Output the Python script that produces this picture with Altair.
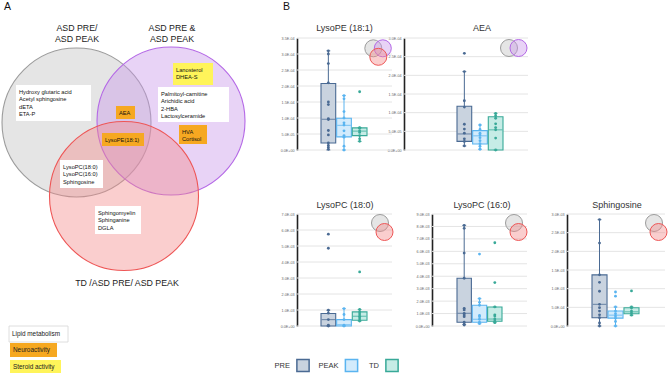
import math
import altair as alt
import pandas as pd

FONT = "Liberation Sans"
W, H = 669, 375

# ---------------- Panel A : Venn diagram ----------------
SET_NAMES = ["ASD PRE/ASD PEAK", "ASD PRE & ASD PEAK", "TD/ASD PRE/ASD PEAK"]
SET_CX = [76.5, 171, 124]
SET_CY = [122.5, 121, 196]
SET_R = [74.5, 74, 74.5]
CIRCLE_FILL = ["#c2c2c2", "#c795ea", "#f48a8a"]
CIRCLE_STROKE = ["#9c9c9c", "#b468e6", "#ee5656"]

SET_TITLES = ["ASD PRE/", "ASD PEAK", "ASD PRE &", "ASD PEAK", "TD /ASD PRE/ ASD PEAK"]
SET_TITLE_X = [77, 77, 172, 172, 127]
SET_TITLE_Y = [28, 39, 28, 39, 283]

KINDS = ["Lipid metabolism", "Neuroactivity", "Steroid activity"]
KIND_COLORS = ["#ffffff", "#f6a821", "#fff45a"]

BOX_KIND = ["Lipid metabolism", "Steroid activity", "Lipid metabolism", "Neuroactivity",
            "Neuroactivity", "Neuroactivity", "Lipid metabolism", "Lipid metabolism"]
BOX_LINES = [
    ["Hydroxy glutaric acid", "Acetyl sphingosine", "dETA", "ETA-P"],
    ["Lanosterol", "DHEA-S"],
    ["Palmitoyl-carnitine", "Arichidic acid", "2-HBA", "Lactosylceramide"],
    ["AEA"],
    ["HVA", "Cortisol"],
    ["LysoPE(18:1)"],
    ["LysoPC(18:0)", "LysoPC(16:0)", "Sphingosine"],
    ["Sphingomyelin", "Sphinganine", "DGLA"],
]
# layout of annotation boxes (pixels)
BOX_X1 = [16, 173, 158, 116, 179, 102, 60, 95]
BOX_X2 = [91, 213, 229, 135, 207, 144, 103, 141]
BOX_Y1 = [85, 63, 87, 106, 125, 133, 160, 206]
BOX_Y2 = [121, 85, 122, 119, 144, 146, 188, 234]

LEG_X1 = [9, 10, 10]
LEG_X2 = [68, 57, 61]
LEG_Y1 = [326, 343, 360]
LEG_Y2 = [342, 357, 373]

# ---------------- Panel B : box plots ----------------
GROUPS = ["PRE", "PEAK", "TD"]
BOX_FILL = ["#c9d3df", "#d3ebfc", "#c6ece6"]
BOX_STROKE = ["#4a6a93", "#5ab4f0", "#38a998"]

PANEL_TITLES = ["LysoPE (18:1)", "AEA", "LysoPC (18:0)", "LysoPC (16:0)", "Sphingosine"]
UNITS = [1e-4, 1e-4, 1e-3, 1e-3, 1e-3]
Y_TICKS = [
    [0, 0.5, 1.0, 1.5, 2.0, 2.5, 3.0, 3.5],
    [0, 0.5, 1.0, 1.5, 2.0, 2.5, 3.0],
    [0, 1, 2, 3, 4, 5, 6, 7],
    [0, 1, 2, 3, 4, 5, 6, 7, 8, 9],
    [0, 0.5, 1.0, 1.5, 2.0, 2.5, 3.0],
]
# [whisker low, Q1, median, Q3, whisker high] per group, in panel units
STATS = [
    [[0.00, 0.22, 0.96, 2.08, 3.10], [0.00, 0.41, 0.77, 0.99, 1.70], [0.27, 0.45, 0.59, 0.69, 0.70]],
    [[0.11, 0.23, 0.43, 1.17, 2.10], [0.02, 0.16, 0.38, 0.52, 0.67], [0.00, 0.00, 0.54, 0.89, 0.98]],
    [[0.00, 0.00, 0.40, 0.78, 0.99], [0.00, 0.00, 0.08, 0.40, 1.09], [0.31, 0.36, 0.61, 0.88, 1.03]],
    [[0.13, 0.30, 1.02, 3.84, 8.09], [0.19, 0.30, 0.54, 1.67, 2.20], [0.27, 0.38, 0.56, 1.53, 1.53]],
    [[0.00, 0.22, 0.58, 1.37, 2.85], [0.00, 0.21, 0.29, 0.40, 0.51], [0.29, 0.33, 0.38, 0.49, 0.51]],
]
POINTS = [
    [[3.10, 3.00, 2.70, 2.10, 1.50, 1.42, 0.98, 0.95, 0.61, 0.47, 0.22, 0.14, 0.08, 0.02],
     [1.70, 1.60, 1.20, 1.00, 0.85, 0.78, 0.60, 0.45, 0.40, 0.12, 0.00],
     [1.82, 0.70, 0.68, 0.60, 0.55, 0.45, 0.35, 0.27]],
    [[2.59, 2.10, 1.32, 1.15, 0.69, 0.56, 0.45, 0.30, 0.23, 0.11],
     [0.67, 0.55, 0.45, 0.40, 0.33, 0.25, 0.17, 0.10, 0.02],
     [0.98, 0.92, 0.85, 0.70, 0.60, 0.54, 0.32, 0.00]],
    [[5.74, 4.86, 0.99, 0.80, 0.40, 0.05, 0.00],
     [1.09, 0.72, 0.40, 0.05, 0.00],
     [3.38, 1.03, 0.88, 0.75, 0.61, 0.50, 0.36, 0.31]],
    [[8.09, 7.85, 5.86, 3.84, 1.42, 1.29, 1.02, 0.89, 0.75, 0.30, 0.13, 0.08],
     [5.78, 2.20, 1.90, 1.67, 0.85, 0.75, 0.54, 0.30, 0.19],
     [6.69, 3.49, 1.53, 0.90, 0.80, 0.56, 0.38, 0.27]],
    [[2.85, 2.22, 1.37, 1.17, 0.93, 0.58, 0.49, 0.40, 0.30, 0.22, 0.08, 0.00],
     [0.91, 0.80, 0.51, 0.40, 0.33, 0.27, 0.21, 0.12, 0.00],
     [0.94, 0.51, 0.48, 0.40, 0.35, 0.29]],
]
# which sets each metabolite belongs to (mini Venn icons)
ICON_SETS = [[0, 1, 2], [0, 1], [0, 2], [0, 2], [0, 2]]

# layout of the box-plot panels (pixels)
PLOT_X = [(297, 392), (404, 528), (297, 392), (432, 527), (567, 665)]
PLOT_Y = [(38, 150), (38, 150), (214, 326), (214, 326), (214, 326)]
BOX_SPAN = [(321, 367), (457, 503), (321, 367), (457, 502), (592, 639)]
TITLE_POS = [(344.5, 28), (482, 28), (345, 205), (482, 205), (617, 205)]
ICON_ANCHOR = [(373.3, 48.3), (509, 48), (380, 223), (514, 223), (654, 223)]
ICON_R = 8.5
LEGEND_BOX_X = [303, 351.5, 392]
LEGEND_Y = 365.5

LABEL_EXPR = ("replace(slice(format(datum.value, '.1e'), 0, -1), 'e', 'E') + '0' + "
              "slice(format(datum.value, '.1e'), -1)")


def venn_layer():
    xs = alt.Scale(domain=[0, W], range=[0, W], nice=False, zero=False)
    ys = alt.Scale(domain=[0, H], range=[0, H], nice=False, zero=False)

    def X(f):
        return alt.X(f, scale=xs, axis=None)

    def Y(f):
        return alt.Y(f, scale=ys, axis=None)

    # Vega symbol size is the area of the bounding square: (2r)^2
    circ = pd.DataFrame({"set": SET_NAMES, "cx": SET_CX, "cy": SET_CY,
                         "area": [(2 * r) ** 2 for r in SET_R], "idx": [0, 1, 2]})
    circles = alt.Chart(circ).mark_circle(opacity=1, fillOpacity=0.42, strokeWidth=1.1).encode(
        x=X("cx:Q"), y=Y("cy:Q"),
        size=alt.Size("area:Q", scale=None),
        color=alt.Color("set:N", scale=alt.Scale(domain=SET_NAMES, range=CIRCLE_FILL), legend=None),
        stroke=alt.Stroke("set:N", scale=alt.Scale(domain=SET_NAMES, range=CIRCLE_STROKE), legend=None),
        order=alt.Order("idx:Q"),
    )

    boxes = pd.DataFrame({"kind": BOX_KIND + KINDS,
                          "x1": BOX_X1 + LEG_X1, "x2": BOX_X2 + LEG_X2,
                          "y1": BOX_Y1 + LEG_Y1, "y2": BOX_Y2 + LEG_Y2})
    rects = alt.Chart(boxes).mark_rect().encode(
        x=X("x1:Q"), x2="x2:Q", y=Y("y1:Q"), y2="y2:Q",
        fill=alt.Fill("kind:N", scale=alt.Scale(domain=KINDS, range=KIND_COLORS), legend=None),
    )
    lipid_border = alt.Chart(pd.DataFrame({"x1": [LEG_X1[0]], "x2": [LEG_X2[0]],
                                           "y1": [LEG_Y1[0]], "y2": [LEG_Y2[0]]})).mark_rect(
        fill="#ffffff", stroke="#d6d6d6", strokeWidth=0.8).encode(
        x=X("x1:Q"), x2="x2:Q", y=Y("y1:Q"), y2="y2:Q")

    rows = []
    for k, lines in enumerate(BOX_LINES):
        for j, t in enumerate(lines):
            rows.append({"t": t, "x": BOX_X1[k] + 3, "y": BOX_Y1[k] + 7 + 7.3 * j})
    txt = alt.Chart(pd.DataFrame(rows)).mark_text(
        align="left", baseline="middle", fontSize=5.7, font=FONT, color="#111111").encode(
        x=X("x:Q"), y=Y("y:Q"), text="t:N")

    leg_rows = [{"t": KINDS[k], "x": LEG_X1[k] + 3, "y": (LEG_Y1[k] + LEG_Y2[k]) / 2} for k in range(3)]
    leg_txt = alt.Chart(pd.DataFrame(leg_rows)).mark_text(
        align="left", baseline="middle", fontSize=6.4, font=FONT, color="#222222").encode(
        x=X("x:Q"), y=Y("y:Q"), text="t:N")

    ttl = alt.Chart(pd.DataFrame({"t": SET_TITLES, "x": SET_TITLE_X, "y": SET_TITLE_Y})).mark_text(
        align="center", baseline="middle", fontSize=8.8, font=FONT, color="#222222").encode(
        x=X("x:Q"), y=Y("y:Q"), text="t:N")

    letters = alt.Chart(pd.DataFrame({"t": ["A", "B"], "x": [4, 283], "y": [7, 7]})).mark_text(
        align="left", baseline="middle", fontSize=10.5, font=FONT, color="#111111").encode(
        x=X("x:Q"), y=Y("y:Q"), text="t:N")

    return alt.layer(circles, rects, lipid_border, txt, leg_txt, ttl, letters)


def box_panel(i):
    unit = UNITS[i]
    st = STATS[i]
    box_df = pd.DataFrame({
        "group": GROUPS,
        "lo": [s[0] * unit for s in st], "q1": [s[1] * unit for s in st],
        "med": [s[2] * unit for s in st], "q3": [s[3] * unit for s in st],
        "hi": [s[4] * unit for s in st],
    })
    pts_df = pd.DataFrame({
        "group": [g for g, vals in zip(GROUPS, POINTS[i]) for _ in vals],
        "v": [v * unit for vals in POINTS[i] for v in vals],
    })
    ticks = [t * unit for t in Y_TICKS[i]]
    x0, x1 = PLOT_X[i]
    y0, y1 = PLOT_Y[i]
    xs = alt.Scale(domain=GROUPS, paddingInner=0.06, paddingOuter=0, range=list(BOX_SPAN[i]))
    X = alt.X("group:N", scale=xs, axis=None)
    ys = alt.Scale(domain=[0, ticks[-1]], nice=False, zero=True, range=[y1, y0])
    ax = alt.Axis(values=ticks, labelExpr=LABEL_EXPR, title=None, grid=False, orient="left",
                  offset=-x0, domain=True, domainColor="#222222", domainWidth=1.6, ticks=False,
                  labelFontSize=3.7, labelColor="#666666", labelPadding=3, labelFont=FONT)

    def Y(f):
        return alt.Y(f, scale=ys, axis=ax)

    col = alt.Color("group:N", scale=alt.Scale(domain=GROUPS, range=BOX_STROKE), legend=None)
    strk = alt.Stroke("group:N", scale=alt.Scale(domain=GROUPS, range=BOX_STROKE), legend=None)
    fil = alt.Fill("group:N", scale=alt.Scale(domain=GROUPS, range=BOX_FILL), legend=None)

    grid = alt.Chart(pd.DataFrame({"t": ticks})).mark_rule(color="#e4e4e4", strokeWidth=1).encode(
        y=Y("t:Q"), x=alt.value(x0), x2=alt.value(x1))
    base = alt.Chart(box_df)
    whisk = base.mark_rule(strokeWidth=1).encode(x=X, y=Y("lo:Q"), y2="hi:Q", color=col)
    box = base.mark_bar(strokeWidth=1.1).encode(x=X, y=Y("q1:Q"), y2="q3:Q", fill=fil, stroke=strk)
    med = base.mark_tick(size=13.5, thickness=1.1).encode(x=X, y=Y("med:Q"), color=col)
    cap_lo = base.mark_tick(size=4, thickness=1).encode(x=X, y=Y("lo:Q"), color=col)
    cap_hi = base.mark_tick(size=4, thickness=1).encode(x=X, y=Y("hi:Q"), color=col)
    pts = alt.Chart(pts_df).mark_circle(size=8, opacity=1).encode(x=X, y=Y("v:Q"), color=col)
    return alt.layer(grid, whisk, box, med, cap_lo, cap_hi, pts)


def decorations():
    layers = []
    # panel titles
    for i, t in enumerate(PANEL_TITLES):
        tx, ty = TITLE_POS[i]
        layers.append(alt.Chart(pd.DataFrame({"t": [t]})).mark_text(
            align="center", baseline="middle", fontSize=9, font=FONT, color="#333333").encode(
            text="t:N", x=alt.value(tx), y=alt.value(ty)))
    # mini venn icons
    for i, sets in enumerate(ICON_SETS):
        ax0, ay0 = ICON_ANCHOR[i]
        offsets = {0: (0, 0), 1: (9.5, 0), 2: (5, 8.5) if 1 in sets else (4.5, 9)}
        for s in sets:
            dx, dy = offsets[s]
            layers.append(alt.Chart(pd.DataFrame({"s": [SET_NAMES[s]]})).mark_circle(
                opacity=1, fillOpacity=0.42, fill=CIRCLE_FILL[s], stroke=CIRCLE_STROKE[s],
                strokeWidth=1, size=(2 * ICON_R) ** 2).encode(
                x=alt.value(ax0 + dx), y=alt.value(ay0 + dy)))
    # group legend
    for k, g in enumerate(GROUPS):
        bx = LEGEND_BOX_X[k]
        layers.append(alt.Chart(pd.DataFrame({"g": [g]})).mark_square(
            size=150, opacity=1, fill=BOX_FILL[k], stroke=BOX_STROKE[k], strokeWidth=1.5).encode(
            x=alt.value(bx), y=alt.value(LEGEND_Y)))
        layers.append(alt.Chart(pd.DataFrame({"g": [g]})).mark_text(
            align="right", baseline="middle", fontSize=7.5, font=FONT, color="#333333").encode(
            text="g:N", x=alt.value(bx - 13), y=alt.value(LEGEND_Y)))
    return layers


chart = alt.layer(venn_layer(), *[box_panel(i) for i in range(5)], *decorations()).resolve_scale(
    x="independent", y="independent", color="independent", fill="independent", stroke="independent"
).properties(
    width=W, height=H, padding=0, background="white",
    autosize=alt.AutoSizeParams(type="none"),
).configure_view(strokeWidth=0)

chart.save("out.html", embed_options={"renderer": "svg", "actions": False})
